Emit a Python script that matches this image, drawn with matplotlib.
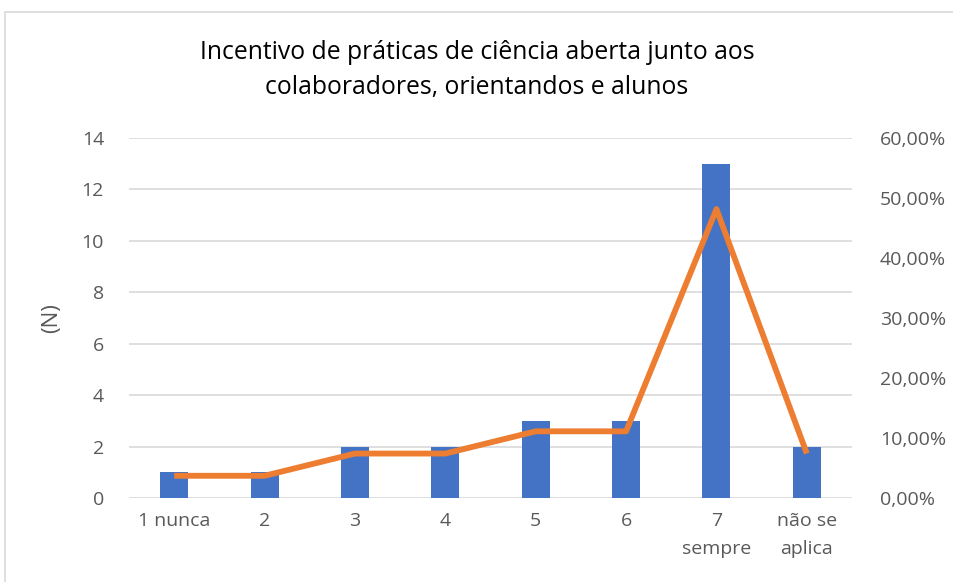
import matplotlib
matplotlib.use("Agg")
import matplotlib.pyplot as plt
from matplotlib.ticker import FuncFormatter, MultipleLocator
from matplotlib.patches import Rectangle

plt.rcParams['font.family'] = ['Open Sans', 'DejaVu Sans']

categories = ["1 nunca", "2", "3", "4", "5", "6", "7\nsempre", "não se\naplica"]
counts = [1, 1, 2, 2, 3, 3, 13, 2]
total = sum(counts)
percents = [c / total * 100 for c in counts]

title = "Incentivo de práticas de ciência aberta junto aos\ncolaboradores, orientandos e alunos"

fig = plt.figure(figsize=(9.54, 5.82), dpi=100)
fig.patches.append(Rectangle((5 / 954, -0.01), 1.0, 1 - 12 / 582 + 0.01,
                             transform=fig.transFigure, fill=False,
                             edgecolor="#D9D9D9", linewidth=1.2))

ax = fig.add_axes([129 / 954, 84 / 582, (852 - 129) / 954, (498 - 138) / 582])
x = list(range(len(categories)))
ax.bar(x, counts, width=0.31, color="#4472C4", zorder=2)
ax.set_xlim(-0.5, len(categories) - 0.5)
ax.set_ylim(0, 14)
ax.yaxis.set_major_locator(MultipleLocator(2))
ax.grid(axis="y", color="#D9D9D9", linewidth=1.2, zorder=0)
ax.set_axisbelow(True)
for s in ax.spines.values():
    s.set_visible(False)
ax.tick_params(axis="both", length=0, colors="#595959", labelsize=14)
ax.tick_params(axis="x", pad=10)
ax.tick_params(axis="y", pad=18)
ax.set_xticks(x)
ax.set_xticklabels(categories, linespacing=1.75, va="top")
ax.set_ylabel("(N)", fontsize=16, color="#595959", labelpad=14)

ax2 = ax.twinx()
ax2.plot(x, percents, color="#ED7D31", linewidth=4.2, solid_capstyle="butt", zorder=3)
ax2.set_ylim(0, 60)
ax2.yaxis.set_major_locator(MultipleLocator(10))
ax2.yaxis.set_major_formatter(FuncFormatter(lambda v, p: f"{v:.2f}%".replace(".", ",")))
for s in ax2.spines.values():
    s.set_visible(False)
ax2.tick_params(axis="y", length=0, colors="#595959", labelsize=14, pad=20)

fig.text(0.5, 1 - 70 / 582, title, ha="center", va="center", fontsize=17.8,
         color="#000000", linespacing=1.5)

fig.savefig("out.png", dpi=100)
